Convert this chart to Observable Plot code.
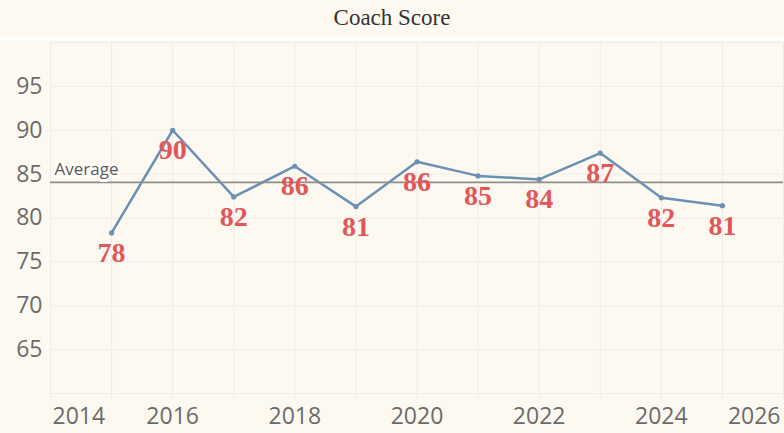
<!DOCTYPE html>
<html>
<head>
<meta charset="utf-8">
<script src="https://cdn.jsdelivr.net/npm/d3@7"></script>
<script src="https://cdn.jsdelivr.net/npm/@observablehq/plot@0.6"></script>
<style>
  html, body { margin: 0; padding: 0; background: #fdf9f1; }
  #title { height: 37px; line-height: 35px; text-align: center; font-family: "Liberation Serif", "Times New Roman", serif; font-size: 23px; color: #333; border-bottom: 3px solid #ffffff; }
  #chart svg { display: block; }
</style>
</head>
<body>
<div id="title">Coach Score</div>
<div id="chart"></div>
<script>
const years = [2015, 2016, 2017, 2018, 2019, 2020, 2021, 2022, 2023, 2024, 2025];
const scores = [78.3, 90.0, 82.4, 85.9, 81.3, 86.4, 84.8, 84.4, 87.4, 82.3, 81.4];
const xTickLabels = [2014, 2016, 2018, 2020, 2022, 2024, 2026];
const yTickLabels = [65, 70, 75, 80, 85, 90, 95];
const gridYears = d3.range(2014, 2027);
const gridValues = d3.range(60, 101, 5);

const data = years.map((year, i) => ({year, score: scores[i]}));
const avg = d3.mean(scores);

const gridColor = "#eeece8";
const blue = "#6b90b6";
const labelColor = "#6b6b6b";
const fmt = d3.format(".0f");

const chart = Plot.plot({
  width: 784,
  height: 393,
  marginTop: 2,
  marginBottom: 40,
  marginLeft: 50,
  marginRight: 1,
  style: {background: "transparent", fontFamily: "'Open Sans', sans-serif", overflow: "visible"},
  x: {domain: [2014, 2026]},
  y: {domain: [60, 100]},
  marks: [
    Plot.gridX(gridYears, {stroke: gridColor, strokeOpacity: 1, strokeWidth: 1}),
    Plot.gridY(gridValues, {stroke: gridColor, strokeOpacity: 1, strokeWidth: 1}),
    Plot.axisX(gridYears, {tickSize: 5, text: null, stroke: gridColor, strokeOpacity: 1, label: null}),
    Plot.axisY(yTickLabels, {tickSize: 0, tickPadding: 8, fontSize: 23, fill: labelColor, label: null}),
    Plot.text(xTickLabels.slice(1, -1), {x: d => d, text: d => String(d), frameAnchor: "bottom", dy: 23, lineAnchor: "middle", fontSize: 23, fill: labelColor}),
    Plot.text(xTickLabels.slice(0, 1), {x: d => d, text: d => String(d), frameAnchor: "bottom", dy: 23, dx: 2, textAnchor: "start", lineAnchor: "middle", fontSize: 23, fill: labelColor}),
    Plot.text(xTickLabels.slice(-1), {x: d => d, text: d => String(d), frameAnchor: "bottom", dy: 23, dx: -3, textAnchor: "end", lineAnchor: "middle", fontSize: 23, fill: labelColor}),
    Plot.line(data, {x: "year", y: "score", stroke: blue, strokeWidth: 2.5}),
    Plot.dot(data, {x: "year", y: "score", r: 2.6, fill: blue}),
    Plot.ruleY([avg], {stroke: "#8e8e8a", strokeWidth: 1.8}),
    Plot.text([avg], {x: () => 2014, y: d => d, text: () => "Average", textAnchor: "start", dx: 4, dy: -13, fontSize: 17, fill: "#5a5a5a", stroke: "#fffdf9", strokeWidth: 6}),
    Plot.text(data, {x: "year", y: "score", text: d => fmt(d.score), dy: 20, lineAnchor: "middle", fontSize: 28, fontWeight: "bold", fontFamily: "'Liberation Serif', 'Times New Roman', serif", fill: "#e15759"})
  ]
});
document.getElementById("chart").append(chart);
</script>
</body>
</html>
